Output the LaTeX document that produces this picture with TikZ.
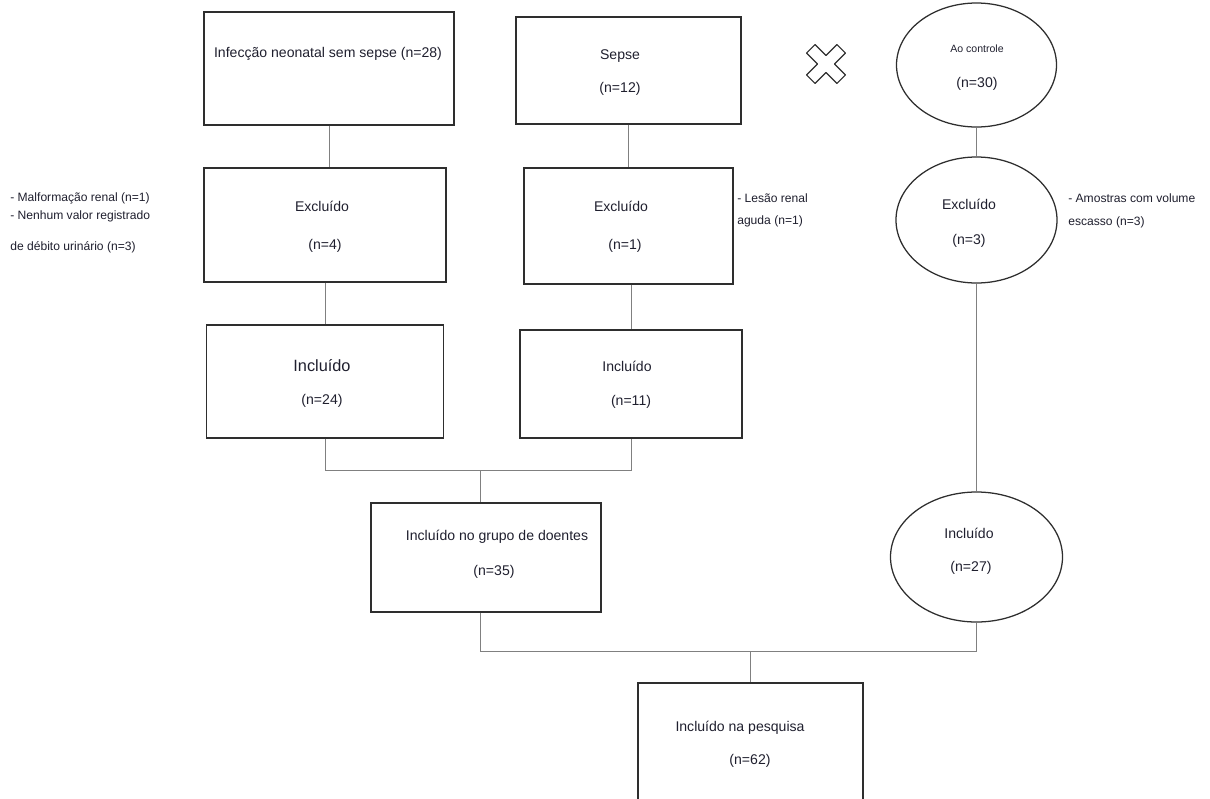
\documentclass[tikz,border=0pt]{standalone}
\usepackage{fontspec}
\setmainfont{Liberation Sans}
\usetikzlibrary{shapes.geometric}
\definecolor{LineClr}{rgb}{0.18,0.18,0.18}
\definecolor{LinkClr}{rgb}{0.5,0.5,0.5}
\definecolor{TextClr}{rgb}{0.12,0.12,0.18}
\newcommand{\pxl}{0.025cm}

\begin{document}
\begin{tikzpicture}[x=0.025cm,y=-0.025cm,
  box/.style={draw=LineClr,line width=0.9pt,rectangle,inner sep=0pt},
  oval/.style={draw=LineClr,line width=0.9pt,ellipse,inner sep=0pt},
  link/.style={draw=LinkClr,line width=0.7pt},
  txt/.style={text=TextClr,font=\fontsize{10}{12}\selectfont,inner sep=0pt},
  big/.style={txt,font=\fontsize{11.6}{14}\selectfont},
  small/.style={txt,font=\fontsize{7.5}{9}\selectfont},
  note/.style={text=TextClr,inner sep=0pt,align=left,anchor=west}]
\useasboundingbox (0,0) rectangle (1210,798);
\clip (0,0) rectangle (1210,798);

\node[box,minimum width=250*\pxl,minimum height=113*\pxl] (Inf) at (329,68.5) {};
\node[box,minimum width=225*\pxl,minimum height=107*\pxl] (Sep) at (628.5,70.5) {};
\node[oval,minimum width=160*\pxl,minimum height=124*\pxl] (Ctl) at (976.5,65) {};

\node[box,minimum width=242*\pxl,minimum height=114*\pxl] (ExA) at (325,225) {};
\node[box,minimum width=209*\pxl,minimum height=116*\pxl] (ExB) at (628.5,226) {};
\node[oval,minimum width=161*\pxl,minimum height=126*\pxl] (ExC) at (976.5,220) {};

\node[box,minimum width=237*\pxl,minimum height=113*\pxl] (InA) at (325,381.5) {};
\node[box,minimum width=222*\pxl,minimum height=108*\pxl] (InB) at (631,384) {};
\node[oval,minimum width=172*\pxl,minimum height=130*\pxl] (InC) at (976.5,557) {};

\node[box,minimum width=230*\pxl,minimum height=109*\pxl] (Doe) at (486,557.5) {};
\node[box,minimum width=225*\pxl,minimum height=127*\pxl] (Pes) at (750.5,746.5) {};

\draw[LineClr,line width=0.8pt,line join=round,shift={(826,64)},rotate=45]
  (-6,-21.5) -- (6,-21.5) -- (6,-6) -- (21.5,-6) -- (21.5,6) -- (6,6)
  -- (6,21.5) -- (-6,21.5) -- (-6,6) -- (-21.5,6) -- (-21.5,-6) -- (-6,-6) -- cycle;

\node[txt] (tInf) at (328,54) {Infecção neonatal sem sepse (n=28)};
\node[txt] (tSep) at (620,56) {Sepse};
\node[txt] (nSep) at (620,89) {(n=12)};
\node[small] (tCtl) at (977,49) {Ao controle};
\node[txt] (nCtl) at (977,84) {(n=30)};

\node[txt] (tExA) at (322,206) {Excluído};
\node[txt] (nExA) at (325,246) {(n=4)};
\node[txt] (tExB) at (621,206) {Excluído};
\node[txt] (nExB) at (625,246) {(n=1)};
\node[txt] (tExC) at (969,204) {Excluído};
\node[txt] (nExC) at (969,241) {(n=3)};

\node[big] (tInA) at (322,366) {Incluído};
\node[txt] (nInA) at (322,401) {(n=24)};
\node[txt] (tInB) at (627,366) {Incluído};
\node[txt] (nInB) at (631,402) {(n=11)};
\node[txt] (tInC) at (969,533) {Incluído};
\node[txt] (nInC) at (971,568) {(n=27)};

\node[txt] (tDoe) at (497,537) {Incluído no grupo de doentes};
\node[txt] (nDoe) at (494,572) {(n=35)};
\node[txt] (tPes) at (740,728) {Incluído na pesquisa};
\node[txt] (nPes) at (750,761) {(n=62)};

\node[note,font=\fontsize{8.6}{12.8}\selectfont] (obsA) at (10,223)
  {- Malformação renal (n=1)\\- Nenhum valor registrado\\[9.2pt]de débito urinário (n=3)};
\node[note,font=\fontsize{8.6}{15.6}\selectfont] (obsB) at (737,210) {- Lesão renal\\aguda (n=1)};
\node[note,font=\fontsize{8.6}{16.4}\selectfont] (obsC) at (1068,210.5) {- Amostras com volume\\escasso (n=3)};

\draw[link] (Inf.south) -- (Inf.south |- ExA.north);
\draw[link] (Sep.south) -- (Sep.south |- ExB.north);
\draw[link] (Ctl.south) -- (ExC.north);
\draw[link] (ExA.south) -- (ExA.south |- InA.north);
\draw[link] (InB.north |- ExB.south) -- (InB.north);
\draw[link] (ExC.south) -- (InC.north);

\coordinate (J1) at (480,470);
\coordinate (J2) at (750,651);
\draw[link] (InA.south) |- (J1) -| (InB.south);
\draw[link] (J1) -- (J1 |- Doe.north);
\draw[link] (J1 |- Doe.south) |- (J2) -| (InC.south);
\draw[link] (J2) -- (J2 |- Pes.north);

\end{tikzpicture}
\end{document}
